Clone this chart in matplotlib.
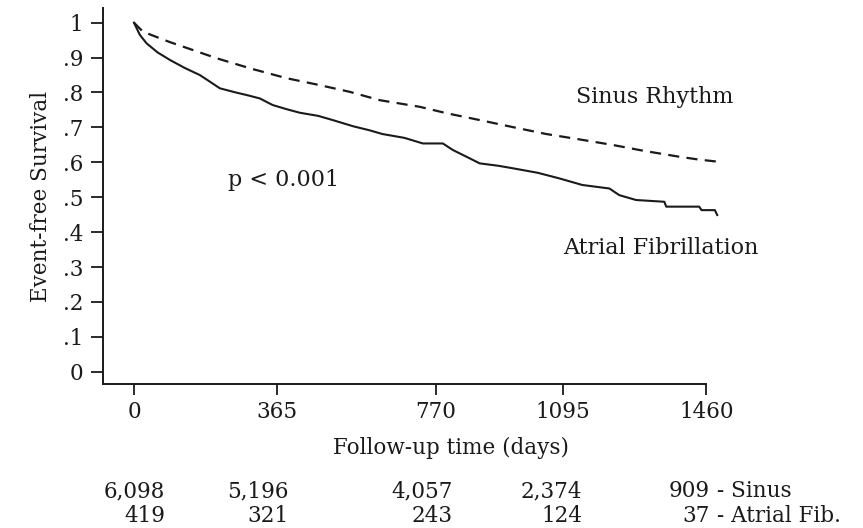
import matplotlib

matplotlib.use("Agg")
import matplotlib.pyplot as plt
from matplotlib.transforms import blended_transform_factory

# Kaplan-Meier estimates (days, survival)
sinus_days = [0, 23, 90, 211, 300, 389, 470, 550, 627, 729, 800, 882, 970,
              1052, 1140, 1220, 1300, 1391, 1440, 1488]
sinus_surv = [1.0, 0.974, 0.945, 0.898, 0.868, 0.841, 0.822, 0.802, 0.778,
              0.759, 0.740, 0.721, 0.700, 0.681, 0.665, 0.650, 0.633, 0.616,
              0.608, 0.602]

af_days = [0, 15, 32, 60, 92, 130, 168, 195, 219, 260, 290, 321, 354, 390,
           423, 470, 507, 560, 600, 634, 690, 737, 788, 814, 850, 882, 930,
           966, 1030, 1085, 1144, 1213, 1238, 1281, 1353, 1358, 1442, 1448,
           1482, 1488]
af_surv = [1.0, 0.965, 0.941, 0.915, 0.893, 0.870, 0.850, 0.830, 0.812,
           0.800, 0.792, 0.783, 0.764, 0.752, 0.742, 0.733, 0.721, 0.703,
           0.692, 0.681, 0.670, 0.654, 0.654, 0.635, 0.615, 0.597, 0.590,
           0.583, 0.570, 0.554, 0.535, 0.525, 0.506, 0.492, 0.487, 0.473,
           0.473, 0.463, 0.463, 0.449]

xtick_days = [0, 365, 770, 1095, 1460]
xtick_labels = ["0", "365", "770", "1095", "1460"]
ytick_vals = [0, 0.1, 0.2, 0.3, 0.4, 0.5, 0.6, 0.7, 0.8, 0.9, 1.0]
ytick_labels = ["0", ".1", ".2", ".3", ".4", ".5", ".6", ".7", ".8", ".9", "1"]

at_risk_sinus = ["6,098", "5,196", "4,057", "2,374", "909"]
at_risk_af = ["419", "321", "243", "124", "37"]
risk_names = [" - Sinus", " - Atrial Fib."]

# layout: right edge of each at-risk column, in days
risk_col_x = [79, 395, 813, 1144, 1470]

plt.rcParams["font.family"] = ["DejaVu Serif"]
ink = "#1a1a1a"
fs = 15.5

fig = plt.figure(figsize=(8.63, 5.28), dpi=100)
ax = fig.add_axes([103 / 863, 1 - 384 / 528, (718 - 103) / 863, (384 - 8) / 528])

ax.plot(sinus_days, sinus_surv, color=ink, lw=1.6, ls=(0, (5, 3.3)), clip_on=False)
ax.plot(af_days, af_surv, color=ink, lw=1.5, clip_on=False)

ax.set_xlim(-79, 1490)
ax.set_ylim(-0.035, 1.042)
ax.spines["top"].set_visible(False)
ax.spines["right"].set_visible(False)
ax.spines["bottom"].set_bounds(-79, 1460)
for s in ("left", "bottom"):
    ax.spines[s].set_linewidth(1.4)
    ax.spines[s].set_color(ink)

ax.set_xticks(xtick_days)
ax.set_xticklabels(xtick_labels)
ax.set_yticks(ytick_vals)
ax.set_yticklabels(ytick_labels)
ax.tick_params(axis="both", colors=ink, labelsize=fs, width=1.3)
ax.tick_params(axis="x", length=8, pad=4)
ax.tick_params(axis="y", length=9, pad=5)

ax.set_ylabel("Event-free Survival", fontsize=fs, color=ink, labelpad=8)

ax.text(1129, 0.787, "Sinus Rhythm", fontsize=16, color=ink, va="center")
ax.text(1096, 0.354, "Atrial Fibrillation", fontsize=16, color=ink, va="center")
ax.text(240, 0.549, "p < 0.001", fontsize=16, color=ink, va="center")

trans = blended_transform_factory(ax.transData, fig.transFigure)
fig.text(810, 1 - 448 / 528, "Follow-up time (days)", transform=trans,
         fontsize=fs, color=ink, ha="center", va="center")

for x, s, a in zip(risk_col_x, at_risk_sinus, at_risk_af):
    fig.text(x, 1 - 491 / 528, s, transform=trans, fontsize=fs, color=ink,
             ha="right", va="center")
    fig.text(x, 1 - 516 / 528, a, transform=trans, fontsize=fs, color=ink,
             ha="right", va="center")
for name, yp in zip(risk_names, [491, 516]):
    fig.text(risk_col_x[-1], 1 - yp / 528, name, transform=trans, fontsize=fs,
             color=ink, ha="left", va="center")

fig.savefig("out.png", dpi=100)
